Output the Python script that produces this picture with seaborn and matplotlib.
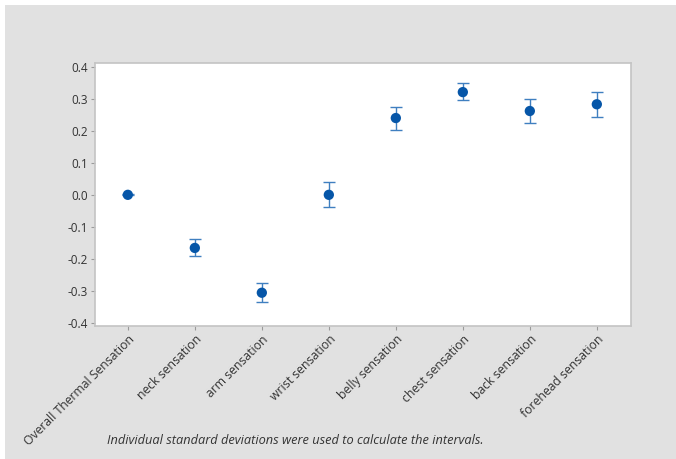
import numpy as np
import pandas as pd
from matplotlib import pyplot as plt
from matplotlib.patches import Rectangle
import seaborn as sns

sns.set_style("ticks")
plt.rcParams["font.family"] = ["Open Sans", "DejaVu Sans"]

categories = [
    "Overall Thermal Sensation",
    "neck sensation",
    "arm sensation",
    "wrist sensation",
    "belly sensation",
    "chest sensation",
    "back sensation",
    "forehead sensation",
]
means = [0.0, -0.166, -0.306, 0.0, 0.240, 0.321, 0.262, 0.283]
upper = [0.002, -0.138, -0.277, 0.040, 0.276, 0.349, 0.299, 0.322]
lower = [-0.002, -0.190, -0.335, -0.038, 0.204, 0.295, 0.225, 0.244]
yticks = [-0.4, -0.3, -0.2, -0.1, 0.0, 0.1, 0.2, 0.3, 0.4]
footnote = "Individual standard deviations were used to calculate the intervals."

df = pd.DataFrame({"category": categories, "mean": means, "upper": upper, "lower": lower})
df["x"] = np.arange(len(df))

bg = "#e1e1e1"
fig = plt.figure(figsize=(6.76, 4.59), dpi=100, facecolor="white")
# grey panel, leaving a thin white strip at top and left
fig.patches.append(Rectangle((5 / 676, 0), 1, 1 - 5 / 459, transform=fig.transFigure,
                             facecolor=bg, edgecolor="none", zorder=-1))
ax = fig.add_axes([95 / 676, 1 - 326 / 459, (631 - 95) / 676, (326 - 63) / 459])
ax.set_facecolor("white")

yerr = np.vstack([df["mean"] - df["lower"], df["upper"] - df["mean"]])
ax.errorbar(df["x"], df["mean"], yerr=yerr, fmt="none", ecolor="#3f7fc0",
            elinewidth=1.0, capsize=4.5, capthick=1.0, zorder=2)
sns.scatterplot(data=df, x="x", y="mean", ax=ax, color="#0656a8", s=55,
                edgecolor="none", zorder=3, legend=False)

ax.set_xlim(-0.49, 7.51)
ax.set_ylim(-0.41, 0.412)
ax.set_xticks(df["x"])
ax.set_xticklabels(df["category"], rotation=45, ha="right", rotation_mode="anchor",
                   fontsize=8.8, color="#333333")
ax.set_yticks(yticks)
ax.set_yticklabels([f"{v:.1f}" for v in yticks], fontsize=8.5, color="#333333")
ax.tick_params(axis="both", length=3, width=0.8, color="#9a9a9a", pad=2)
ax.set_xlabel("")
ax.set_ylabel("")
for s in ax.spines.values():
    s.set_color("#c4c4c4")
    s.set_linewidth(1.2)

fig.text(107 / 676, 1 - 440 / 459, footnote, fontsize=9.2, style="italic",
         color="#333333", va="center")

fig.savefig("out.png", dpi=100)
plt.close()
